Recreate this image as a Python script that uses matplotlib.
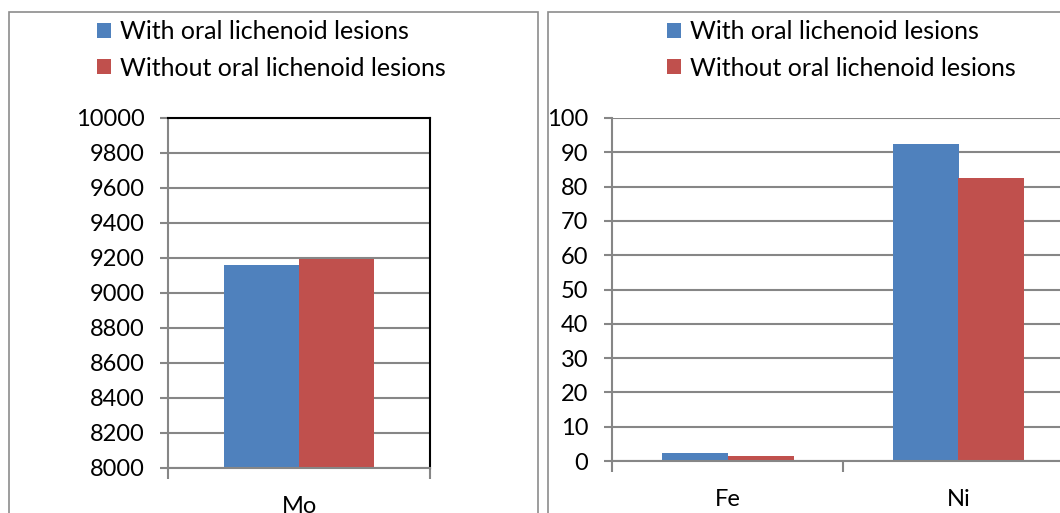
import matplotlib
matplotlib.use('Agg')
import matplotlib.pyplot as plt
from matplotlib.patches import Rectangle

plt.rcParams['font.family'] = ['Lato', 'DejaVu Sans']

series = ['With oral lichenoid lesions', 'Without oral lichenoid lesions']
colors = ['#4F81BD', '#C0504D']

mo_cats = ['Mo']
mo_with = [9160]
mo_without = [9195]

fe_ni_cats = ['Fe', 'Ni']
fe_ni_with = [2.2, 92.5]
fe_ni_without = [1.5, 82.5]

W, H = 1060, 513
fig = plt.figure(figsize=(W / 100, H / 100), dpi=100)

grid_col = '#868686'
fs = 17

# panel borders
for x0, x1 in [(9, 538), (548, 1075)]:
    fig.patches.append(Rectangle((x0 / W, -0.05), (x1 - x0) / W, (H - 12) / H + 0.05,
                                 transform=fig.transFigure, fill=False,
                                 edgecolor='#8c8c8c', lw=1.2))


def draw(ax, cats, a, b, ylim, step, border):
    bw = 1 / 3.5
    xs = list(range(len(cats)))
    base = ylim[0]
    b1 = ax.bar([x - bw / 2 for x in xs], [v - base for v in a], width=bw, bottom=base,
                color=colors[0], label=series[0])
    b2 = ax.bar([x + bw / 2 for x in xs], [v - base for v in b], width=bw, bottom=base,
                color=colors[1], label=series[1])
    ax.set_xlim(-0.5, len(cats) - 0.5)
    ax.set_ylim(*ylim)
    ax.set_yticks(range(ylim[0], ylim[1] + 1, step))
    ax.yaxis.grid(True, color=grid_col, lw=1.5)
    ax.set_axisbelow(True)
    ax.set_xticks(xs)
    ax.set_xticklabels(cats, fontsize=fs)
    ax.set_xticks([x - 0.5 for x in range(len(cats) + 1)], minor=True)
    ax.tick_params(axis='x', which='major', length=0, pad=20)
    ax.tick_params(axis='x', which='minor', length=8, color=grid_col, width=1.5, direction='out')
    ax.tick_params(axis='y', length=6, color=grid_col, width=1.5, labelsize=fs, pad=11)
    for s in ['left', 'bottom']:
        ax.spines[s].set_color(grid_col)
        ax.spines[s].set_linewidth(1.5)
    for s in ['top', 'right']:
        if border:
            ax.spines[s].set_color('black')
            ax.spines[s].set_linewidth(1.5)
        else:
            ax.spines[s].set_visible(False)
    return b1, b2


ax1 = fig.add_axes([168 / W, (H - 468) / H, 262 / W, 350 / H])
draw(ax1, mo_cats, mo_with, mo_without, (8000, 10000), 200, True)

ax2 = fig.add_axes([612 / W, (H - 461) / H, 462 / W, 343 / H])
draw(ax2, fe_ni_cats, fe_ni_with, fe_ni_without, (0, 100), 10, False)

for ax, x in [(ax1, 97), (ax2, 667)]:
    ax.legend(loc='upper left', bbox_to_anchor=(x / W, 1 - 20 / H), bbox_transform=fig.transFigure,
              frameon=False, prop={'size': 18}, handlelength=0.55, handleheight=0.55,
              handletextpad=0.35, labelspacing=0.55, borderaxespad=0, borderpad=0)

fig.savefig('out.png', dpi=100)
